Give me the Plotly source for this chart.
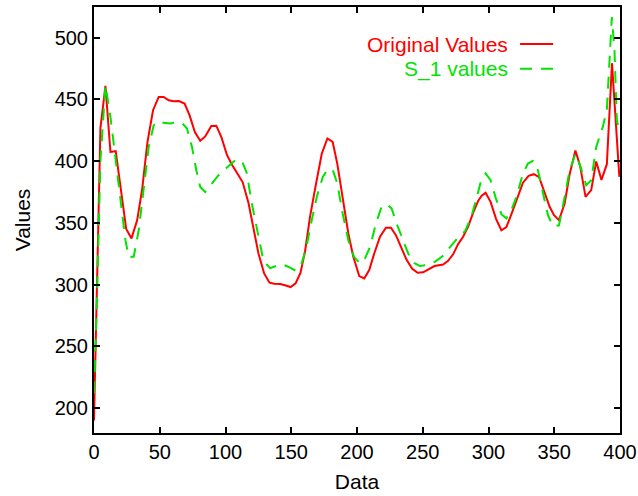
import plotly.graph_objects as go

# Original Values (red, solid)
orig_x = [0, 2.5, 4.9, 8.7, 12.5, 16.5, 20.5, 24.5, 28.5, 32.8, 36.6, 40.6, 44.9, 49.2, 53, 56.8,
          60.6, 64.5, 68.9, 72.7, 76.7, 80.8, 84.6, 89.2, 93, 97, 101.1, 104.9, 108.7, 113, 117.5,
          121.3, 125.1, 129.4, 133.5, 137, 141.6, 145.3, 149.5, 153.3, 157, 160.5, 164.3, 168.9,
          173.2, 177.5, 181.5, 185, 189.1, 193.4, 197.2, 201.7, 205.5, 209.3, 213.1, 217.5, 222,
          225.8, 229.6, 233.4, 237.7, 242, 246.1, 250.3, 254.5, 258.9, 265.5, 269.3, 273.1, 277,
          280.7, 284.5, 288.3, 292.1, 294.8, 297.8, 301.6, 305.8, 309.8, 313.6, 317.8, 321.8,
          326.2, 330.5, 334.5, 338.5, 342.5, 346.5, 349.8, 353.6, 357.9, 361.7, 366.1, 369.6,
          373.8, 378.1, 381.9, 385.9, 390, 393.9, 399.5]
orig_y = [190, 300, 427, 461, 407.4, 408, 378, 345, 337.4, 352, 377, 415, 441.2, 452, 452, 449.3,
          448.5, 448.7, 446.6, 437, 423.6, 416.5, 420, 428.5, 428.7, 419, 405, 397, 390.5, 383, 366,
          345, 325, 309, 301.5, 300.6, 300.4, 299.4, 298, 301, 309.5, 327, 355, 382,
          406, 418.3, 415.5, 398, 368.4, 341.4, 322.5, 306.9, 305, 311.7, 325.2, 338.7, 346,
          346, 340, 330.6, 320, 312.7, 309.6, 309.9, 312.5, 315, 316.3, 319.3, 324.5, 333,
          338.7, 347, 358, 367.7, 372, 374.3, 367, 353, 344, 346.5, 358, 370,
          382.5, 388, 389.4, 387, 375, 363, 356.2, 352.2, 365.7, 389.3, 408.5, 396.5,
          371, 376.5, 399.7, 384.8, 397.5, 479.3, 387.2]

# S_1 values (green, dashed)
s1_x = [0, 2.4, 4.9, 8.7, 12.5, 16.3, 20.1, 23.9, 26.4, 30.2, 34, 37.8, 41.6, 45.4, 49.2, 53, 58,
        63.1, 66.9, 70.7, 74.5, 77.8, 80.8, 84.6, 89.7, 94.7, 101.1, 107.4, 112.5, 116.3, 119.5,
        123.9, 128.9, 134, 142.8, 149.1, 153.3, 157.3, 161.5, 165.6, 169.4, 174, 177.5, 181.5,
        185, 189.1, 193.4, 197.7, 202.3, 206.1, 209.9, 214.4, 218.7, 222.5, 226.3, 230.1, 234.7,
        238.9, 243.5, 247.8, 253.5, 259.2, 265, 270.6, 276, 282.3, 287.1, 290.9, 294.1, 297.8,
        301.6, 305.7, 309.8, 313.6, 317.4, 321.2, 326.2, 330, 333.8, 337.6, 341.4, 345.2, 349,
        353.6, 357.9, 361.7, 366.2, 370, 374.3, 378.1, 381.9, 386.9, 390, 392, 393.8, 395.8,
        397.6, 399.5]
s1_y = [212, 293, 400.7, 461.4, 435.8, 403.4, 368.4, 336, 322.5, 322.5, 344, 379, 411.5, 429, 432.5,
        431, 430.4, 431.7, 431, 426.4, 411.5, 392.6, 379, 375, 381.9, 388.6, 394.8, 400.7, 400.2,
        390, 368.4, 344, 319, 313.3, 316.6, 313.7, 311.3, 315, 330, 352.2, 371, 387.2, 393.2,
        393.2, 381.9, 357.6, 336, 322.5, 317, 321.2, 330.6, 349.5, 363, 365.1, 361.7, 349.5, 336,
        325.2, 317.5, 315, 316, 318.4, 323, 330, 337, 343.5, 355.5, 370, 383, 390,
        384.5, 369.5, 357, 353.6, 360.3, 371, 390, 398, 400.2, 392.6, 373.8, 356.2, 347.3,
        348, 371, 392.6, 406, 395.3, 380.5, 384.5, 411.5, 427.7, 441.2, 487, 516.7, 489.7,
        433, 425]

series_names = ["Original Values", "S_1 values"]
x_ticks = [0, 50, 100, 150, 200, 250, 300, 350, 400]
y_ticks = [200, 250, 300, 350, 400, 450, 500]

RED = "#ff0000"
GREEN = "#00e400"
FONT = "Liberation Sans, Arial, sans-serif"

fig = go.Figure()
fig.add_trace(go.Scatter(x=orig_x, y=orig_y, mode="lines", name=series_names[0],
                         line=dict(color=RED, width=2), showlegend=False))
fig.add_trace(go.Scatter(x=s1_x, y=s1_y, mode="lines", name=series_names[1],
                         line=dict(color=GREEN, width=2, dash="12px,9px"), showlegend=False))

axis_common = dict(showgrid=False, zeroline=False, showline=True, linecolor="black", linewidth=2,
                   mirror="allticks", ticks="inside", ticklen=6, tickwidth=1.5, tickcolor="black",
                   automargin=False,
                   tickfont=dict(family=FONT, size=20, color="black"))

fig.update_xaxes(range=[0, 400], tickvals=x_ticks, ticktext=[str(v) for v in x_ticks],
                 title=dict(text="Data", font=dict(family=FONT, size=21, color="black"), standoff=12),
                 **axis_common)
fig.update_yaxes(range=[179.8, 524.8], tickvals=y_ticks, ticktext=[str(v) for v in y_ticks],
                 title=dict(text="Values", font=dict(family=FONT, size=21, color="black"), standoff=18),
                 **axis_common)

# legend (text on the left, sample on the right, gnuplot style)
legend_rows = [(series_names[0], RED, "solid", 0.913), (series_names[1], GREEN, "12px,9px", 0.855)]
for name, col, dash, yy in legend_rows:
    fig.add_annotation(xref="paper", yref="paper", x=0.791, y=yy, xanchor="right", yanchor="middle",
                       text=name, showarrow=False, font=dict(family=FONT, size=21, color=col))
    fig.add_shape(type="line", xref="paper", yref="paper", x0=0.810, x1=0.873, y0=yy, y1=yy,
                  line=dict(color=col, width=2, dash=dash))

fig.update_layout(width=638, height=496, margin=dict(l=93.5, r=17.5, t=6.7, b=62.7),
                  paper_bgcolor="white", plot_bgcolor="white",
                  font=dict(family=FONT, size=20, color="black"))

fig.write_html("out.html", config={"displayModeBar": False},
               post_script="document.body.style.margin='0';document.body.style.padding='0';")
